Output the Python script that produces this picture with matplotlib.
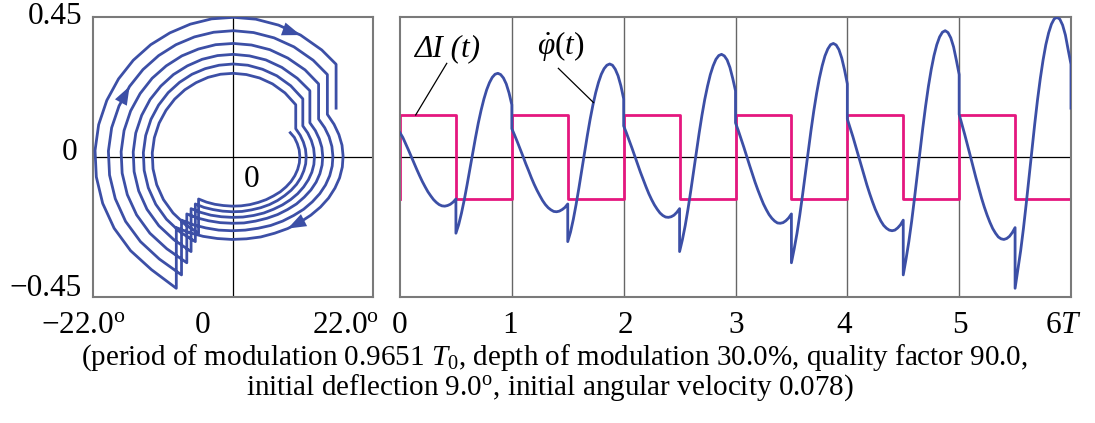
import numpy as np
import matplotlib.pyplot as plt
from matplotlib.patches import FancyArrowPatch

plt.rcParams['font.family'] = 'Liberation Serif'
plt.rcParams['mathtext.fontset'] = 'custom'
plt.rcParams['mathtext.rm'] = 'Liberation Serif'
plt.rcParams['mathtext.it'] = 'Liberation Serif:italic'
plt.rcParams['mathtext.bf'] = 'Liberation Serif:bold'

BLUE = '#3c4fa6'
PINK = '#e5177f'
FS = 22.5
FS_CAP = 21

# --- sampled trajectory, one row per modulation period T ---
# instants inside a period: first half ΔI > 0, second half ΔI < 0
t_hi = [0.000, 0.025, 0.050, 0.075, 0.100, 0.125, 0.150, 0.175, 0.200, 0.225, 0.250,
        0.275, 0.300, 0.325, 0.350, 0.375, 0.400, 0.425, 0.450, 0.475, 0.500]
t_lo = [0.500, 0.525, 0.550, 0.575, 0.600, 0.625, 0.650, 0.675, 0.700, 0.725, 0.750,
        0.775, 0.800, 0.825, 0.850, 0.875, 0.900, 0.925, 0.950, 0.975, 1.000]

# angular velocity
w_hi = [
    [0.078, 0.063, 0.043, 0.023, 0.002, -0.019, -0.040, -0.060, -0.079, -0.096, -0.112,
     -0.125, -0.137, -0.146, -0.153, -0.157, -0.158, -0.156, -0.152, -0.145, -0.135],
    [0.091, 0.070, 0.048, 0.025, 0.002, -0.022, -0.044, -0.067, -0.088, -0.107, -0.124,
     -0.140, -0.153, -0.163, -0.170, -0.175, -0.176, -0.174, -0.169, -0.162, -0.151],
    [0.100, 0.077, 0.053, 0.028, 0.002, -0.024, -0.049, -0.073, -0.096, -0.118, -0.137,
     -0.154, -0.168, -0.180, -0.188, -0.193, -0.194, -0.192, -0.187, -0.178, -0.166],
    [0.110, 0.085, 0.058, 0.031, 0.002, -0.026, -0.054, -0.081, -0.106, -0.129, -0.151,
     -0.169, -0.185, -0.197, -0.206, -0.212, -0.213, -0.211, -0.205, -0.196, -0.183],
    [0.122, 0.094, 0.065, 0.034, 0.002, -0.029, -0.060, -0.090, -0.118, -0.144, -0.168,
     -0.188, -0.206, -0.220, -0.229, -0.235, -0.237, -0.235, -0.228, -0.218, -0.203],
    [0.137, 0.105, 0.072, 0.038, 0.003, -0.032, -0.067, -0.100, -0.132, -0.161, -0.187,
     -0.210, -0.230, -0.245, -0.257, -0.263, -0.265, -0.262, -0.255, -0.243, -0.227],
]
w_lo = [
    [-0.245, -0.217, -0.180, -0.137, -0.089, -0.038, 0.013, 0.062, 0.109, 0.150, 0.186,
     0.216, 0.239, 0.256, 0.266, 0.269, 0.265, 0.254, 0.235, 0.206, 0.168],
    [-0.272, -0.241, -0.200, -0.152, -0.099, -0.043, 0.014, 0.069, 0.121, 0.167, 0.207,
     0.240, 0.266, 0.284, 0.295, 0.299, 0.295, 0.282, 0.261, 0.229, 0.187],
    [-0.304, -0.266, -0.221, -0.168, -0.109, -0.047, 0.016, 0.077, 0.134, 0.185, 0.228,
     0.265, 0.293, 0.314, 0.326, 0.330, 0.325, 0.312, 0.288, 0.253, 0.213],
    [-0.340, -0.295, -0.245, -0.186, -0.121, -0.052, 0.017, 0.085, 0.148, 0.204, 0.253,
     0.293, 0.325, 0.347, 0.361, 0.365, 0.360, 0.345, 0.318, 0.280, 0.235],
    [-0.379, -0.328, -0.272, -0.207, -0.134, -0.058, 0.019, 0.094, 0.164, 0.227, 0.281,
     0.326, 0.361, 0.386, 0.401, 0.406, 0.400, 0.383, 0.354, 0.311, 0.265],
    [-0.422, -0.362, -0.301, -0.229, -0.149, -0.064, 0.021, 0.104, 0.182, 0.251, 0.311,
     0.361, 0.399, 0.427, 0.444, 0.449, 0.443, 0.424, 0.392, 0.344, 0.298],
]
w_end = 0.157  # after the last switch at t = 6T

# deflection (degrees) at the same instants
phi_hi = [
    [9.00, 9.64, 10.10, 10.40, 10.50, 10.43, 10.16, 9.72, 9.11, 8.34, 7.42,
     6.37, 5.22, 3.97, 2.65, 1.28, -0.11, -1.50, -2.86, -4.17, -5.41],
    [9.86, 10.56, 11.06, 11.39, 11.50, 11.42, 11.13, 10.65, 9.98, 9.13, 8.13,
     6.98, 5.72, 4.35, 2.90, 1.40, -0.12, -1.64, -3.13, -4.57, -5.92],
    [10.97, 11.75, 12.31, 12.67, 12.80, 12.71, 12.39, 11.85, 11.11, 10.16, 9.05,
     7.77, 6.36, 4.84, 3.23, 1.56, -0.13, -1.83, -3.48, -5.08, -6.59],
    [12.08, 12.94, 13.56, 13.96, 14.10, 14.00, 13.65, 13.06, 12.24, 11.20, 9.97,
     8.56, 7.01, 5.33, 3.55, 1.72, -0.14, -2.02, -3.84, -5.60, -7.26],
    [13.45, 14.41, 15.10, 15.54, 15.70, 15.59, 15.20, 14.54, 13.63, 12.47, 11.10,
     9.53, 7.80, 5.93, 3.96, 1.92, -0.16, -2.25, -4.27, -6.23, -8.09],
    [14.83, 15.88, 16.64, 17.13, 17.30, 17.18, 16.75, 16.02, 15.02, 13.74, 12.23,
     10.50, 8.60, 6.54, 4.36, 2.11, -0.17, -2.47, -4.71, -6.87, -8.91],
]
phi_lo = [
    [-5.41, -7.51, -9.42, -10.93, -11.99, -12.57, -12.69, -12.36, -11.61, -10.53, -9.17,
     -7.57, -5.80, -3.92, -1.97, 0.04, 2.10, 4.18, 6.21, 8.17, 9.86],
    [-5.92, -8.33, -10.46, -12.14, -13.31, -13.96, -14.09, -13.72, -12.89, -11.69, -10.18,
     -8.40, -6.44, -4.36, -2.19, 0.04, 2.33, 4.64, 6.89, 9.07, 10.97],
    [-6.59, -9.28, -11.65, -13.52, -14.82, -15.54, -15.68, -15.28, -14.35, -13.02, -11.34,
     -9.36, -7.17, -4.85, -2.43, 0.05, 2.59, 5.17, 7.68, 10.10, 12.08],
    [-7.26, -10.40, -13.06, -15.15, -16.61, -17.42, -17.58, -17.12, -16.09, -14.59, -12.71,
     -10.49, -8.04, -5.44, -2.73, 0.05, 2.90, 5.79, 8.61, 11.32, 13.45],
    [-8.09, -11.58, -14.54, -16.88, -18.50, -19.40, -19.58, -19.07, -17.91, -16.25, -14.15,
     -11.68, -8.96, -6.06, -3.04, 0.06, 3.23, 6.45, 9.58, 12.60, 14.83],
    [-8.91, -12.82, -16.10, -18.68, -20.48, -21.48, -21.68, -21.11, -19.83, -17.99, -15.67,
     -12.93, -9.92, -6.71, -3.36, 0.07, 3.58, 7.14, 10.61, 13.95, 16.20],
]

# modulation ΔI(t): switching instants and levels
dI_t = [0, 0, 0.5, 1, 1.5, 2, 2.5, 3, 3.5, 4, 4.5, 5, 5.5, 6]
dI_v = [-0.135, 0.135, -0.135, 0.135, -0.135, 0.135, -0.135,
        0.135, -0.135, 0.135, -0.135, 0.135, -0.135, -0.135]

# join the periods into one trajectory
t_all, w_all, phi_all = [], [], []
for k in range(6):
    t_all += [k + s for s in t_hi] + [k + s for s in t_lo]
    w_all += w_hi[k] + w_lo[k]
    phi_all += phi_hi[k] + phi_lo[k]
t_all.append(6.0)
w_all.append(w_end)
phi_all.append(phi_lo[-1][-1])
n_hi = len(t_hi)
n_per = n_hi + len(t_lo)

# --- figure laid out in pixels ---
W, H = 1095, 423
fig = plt.figure(figsize=(W / 100, H / 100), dpi=100)


def box(x0, y0, x1, y1):
    return [x0 / W, 1 - y1 / H, (x1 - x0) / W, (y1 - y0) / H]


def ftext(x, y, s, **kw):
    kw.setdefault('fontsize', FS)
    fig.text(x / W, 1 - y / H, s, **kw)


ax_ph = fig.add_axes(box(93, 17, 373, 297))
ax_t = fig.add_axes(box(400, 17, 1071, 297))

for ax in (ax_ph, ax_t):
    ax.set_xticks([])
    ax.set_yticks([])
    ax.set_ylim(-0.45, 0.45)
    for sp in ax.spines.values():
        sp.set_color('#7a7a7a')
        sp.set_linewidth(1.5)

# phase portrait
ax_ph.set_xlim(-22, 22)
ax_ph.axhline(0, color='k', lw=0.9, zorder=1)
ax_ph.axvline(0, color='k', lw=0.9, zorder=1)
ax_ph.plot(phi_all, w_all, color=BLUE, lw=2.0, zorder=3)


def arrow(i_tail, i_tip):
    # arrowhead only, pointing along the trajectory
    ax_ph.add_patch(FancyArrowPatch(
        (phi_all[i_tail], w_all[i_tail]), (phi_all[i_tip], w_all[i_tip]),
        arrowstyle='-|>,head_length=0.6,head_width=0.22',
        mutation_scale=22, color=BLUE, lw=0, shrinkA=0, shrinkB=0, zorder=4))


arrow(5 * n_per + n_hi + 16, 5 * n_per + n_hi + 18)   # top, outer loop
arrow(4 * n_per + n_hi + 8, 4 * n_per + n_hi + 9)     # left side
arrow(5 * n_per + 11, 5 * n_per + 12)                 # bottom, outer loop

# time series
ax_t.set_xlim(0, 6)
ax_t.axhline(0, color='k', lw=0.9, zorder=1)
for k in range(1, 6):
    ax_t.axvline(k, color='#666666', lw=1.0, zorder=1)
ax_t.step(dI_t, dI_v, where='post', color=PINK, lw=2.0, zorder=2)
ax_t.plot(t_all, w_all, color=BLUE, lw=2.0, zorder=3)

# labels on the curves
ax_t.plot([0.418, 0.14], [0.301, dI_v[1]], color='k', lw=0.9, zorder=4)
ax_t.text(0.42, 0.347, '\u0394I (t)', fontsize=FS, style='italic',
          ha='center', va='center')
t_lab = 1.73
seg = slice(n_per + n_hi, 2 * n_per)
ax_t.plot([1.416, t_lab], [0.285, np.interp(t_lab, t_all[seg], w_all[seg])],
          color='k', lw=0.9, zorder=4)
ax_t.text(1.44, 0.357, r'$\dot{\varphi}(t)$', fontsize=FS, ha='center', va='center')

# tick labels
ftext(82, 17, '0.45', ha='right', va='center')
ftext(77, 153, '0', ha='right', va='center')
ftext(82, 288, '\u22120.45', ha='right', va='center')
ftext(252, 179, '0', ha='center', va='center')

base = 333
ftext(83, base, '\u221222.0$^{\\rm o}$', ha='center', va='baseline')
ftext(203, base, '0', ha='center', va='baseline')
ftext(346, base, '22.0$^{\\rm o}$', ha='center', va='baseline')
for lab, x in zip(['0', '1', '2', '3', '4', '5'], [400, 510, 625, 736, 844, 960]):
    ftext(x, base, lab, ha='center', va='baseline')
ftext(1063, base, '6$T$', ha='center', va='baseline')

# caption
ftext(554, 365, '(period of modulation 0.9651 $T_0$, depth of modulation 30.0%, '
      'quality factor 90.0,', fontsize=FS_CAP, ha='center', va='baseline')
ftext(550, 395, 'initial deflection 9.0$^{\\rm o}$, initial angular velocity 0.078)',
      fontsize=FS_CAP, ha='center', va='baseline')

fig.savefig('out.png', dpi=100)
